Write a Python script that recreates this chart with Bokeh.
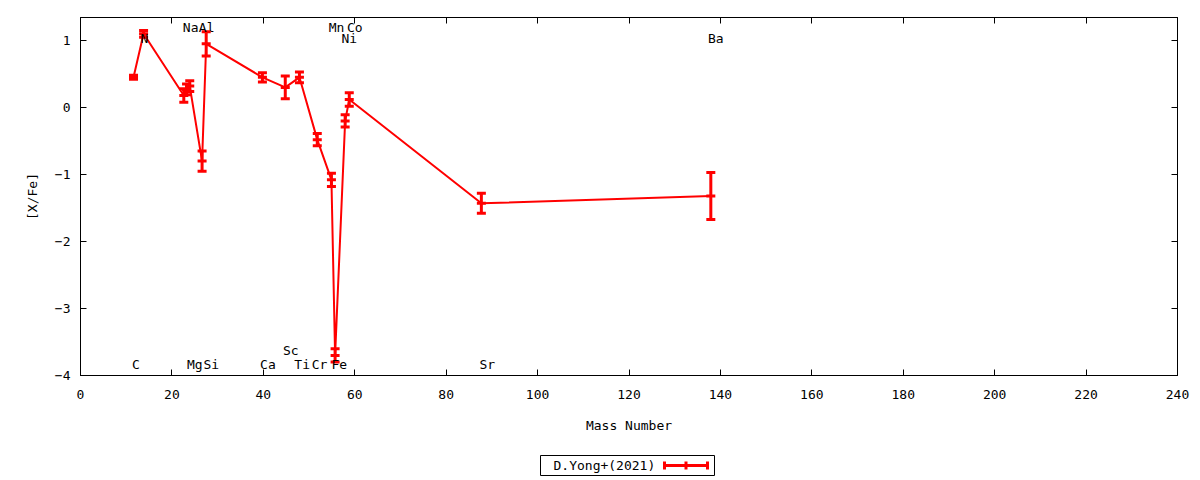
import numpy as np
from bokeh.plotting import figure
from bokeh.layouts import column
from bokeh.models import (Range1d, LinearAxis, SingleIntervalTicker, Whisker, TeeHead,
                          ColumnDataSource, CustomJSTickFormatter)
from bokeh.core.properties import value
from bokeh.embed import file_html
from bokeh.resources import INLINE

# data
mass = [11.6, 13.8, 22.6, 23.2, 23.9, 26.6, 27.5, 39.8, 44.8, 47.9, 51.8, 54.9, 55.7, 57.9, 58.8, 87.7, 137.9]
xfe = [0.45, 1.10, 0.18, 0.27, 0.32, -0.80, 0.95, 0.45, 0.30, 0.45, -0.48, -1.08, -3.70, -0.20, 0.12, -1.43, -1.32]
err = [0.03, 0.05, 0.10, 0.08, 0.08, 0.15, 0.18, 0.07, 0.17, 0.08, 0.09, 0.10, 0.10, 0.09, 0.10, 0.15, 0.35]

labels = ["C", "N", "Na", "Mg", "Al", "Si", "Ca", "Sc", "Ti", "Cr", "Mn", "Fe", "Co", "Ni", "Sr", "Ba"]
label_x = [12.1, 14.0, 24.1, 25.0, 27.6, 28.6, 41.0, 46.0, 48.5, 52.3, 56.0, 56.6, 60.0, 58.8, 89.0, 139.0]
label_y = [-3.84, 1.03, 1.19, -3.84, 1.19, -3.84, -3.84, -3.63, -3.84, -3.84, 1.19, -3.84, 1.19, 1.03, -3.84, 1.03]

series_name = "D.Yong+(2021)"

FONT = "DejaVu Sans Mono"
RED = "#ff0000"

p = figure(frame_width=1097, frame_height=358, output_backend="svg", toolbar_location=None,
           x_range=Range1d(0, 240), y_range=Range1d(-4, 1.343),
           min_border_left=80, min_border_right=15, min_border_top=17, min_border_bottom=72)
p.xgrid.visible = False
p.ygrid.visible = False
p.outline_line_color = "black"
p.outline_line_width = 1
p.background_fill_color = "white"
p.border_fill_color = "white"

def style_axis(ax):
    ax.major_tick_in = 6
    ax.major_tick_out = 0
    ax.minor_tick_in = 0
    ax.minor_tick_out = 0
    ax.axis_line_color = "black"
    ax.major_tick_line_color = "black"
    ax.major_label_text_font = FONT
    ax.major_label_text_font_size = "13px"
    ax.major_label_text_color = "black"
    ax.axis_label_text_font = FONT
    ax.axis_label_text_font_size = "13px"
    ax.axis_label_text_font_style = "normal"
    ax.axis_label_text_color = "black"

p.xaxis.ticker = SingleIntervalTicker(interval=20)
p.yaxis.ticker = SingleIntervalTicker(interval=1)
style_axis(p.xaxis[0])
style_axis(p.yaxis[0])
p.xaxis.axis_label = "Mass Number"
p.yaxis.axis_label = "[X/Fe]"
p.xaxis.major_label_standoff = 14
p.yaxis.major_label_standoff = 10
p.xaxis.axis_label_standoff = 16
p.yaxis.axis_label_standoff = 12

blank = CustomJSTickFormatter(code="return ''")
top = LinearAxis(ticker=SingleIntervalTicker(interval=20), formatter=blank)
right = LinearAxis(ticker=SingleIntervalTicker(interval=1), formatter=blank)
style_axis(top)
style_axis(right)
top.major_label_standoff = 0
right.major_label_standoff = 0
p.add_layout(top, "above")
p.add_layout(right, "right")

src = ColumnDataSource(dict(x=mass, y=xfe,
                            lo=[v - e for v, e in zip(xfe, err)],
                            hi=[v + e for v, e in zip(xfe, err)]))

p.line("x", "y", source=src, line_color=RED, line_width=2)
w = Whisker(base="x", lower="lo", upper="hi", source=src, dimension="height",
            line_color=RED, line_width=3,
            upper_head=TeeHead(size=9, line_color=RED, line_width=3),
            lower_head=TeeHead(size=9, line_color=RED, line_width=3))
p.add_layout(w)
p.scatter("x", "y", source=src, marker="dash", size=9, line_color=RED, line_width=3)

lsrc = ColumnDataSource(dict(x=label_x, y=label_y, t=labels))
p.text("x", "y", text="t", source=lsrc, text_align="center", text_baseline="middle",
       text_font=value(FONT), text_font_size="13px", text_color="black")

# key panel below the chart (gnuplot style: text then sample); its frame is aligned
# with the chart frame (page x 80..1177), so its x range is given in page pixels
k = figure(width=1192, height=33, output_backend="svg", toolbar_location=None,
           x_range=Range1d(80, 1177), y_range=Range1d(33, 0),
           min_border=0, x_axis_type=None, y_axis_type=None)
k.xgrid.visible = False
k.ygrid.visible = False
k.outline_line_color = None
k.background_fill_color = "white"
k.border_fill_color = "white"
k.quad(left=[540], right=[714], top=[8], bottom=[28], fill_color="white", line_color="black", line_width=1)
k.text([553], [18], text=[series_name], text_align="left", text_baseline="middle",
       text_font=value(FONT), text_font_size="13px", text_color="black")
k.line([663, 708], [18, 18], line_color=RED, line_width=3)
k.segment(x0=[664, 685.5, 707], y0=[14, 14, 14], x1=[664, 685.5, 707], y1=[22, 22, 22],
          line_color=RED, line_width=3)

layout = column(p, k, spacing=0)
open("out.html", "w").write(file_html(layout, INLINE))
